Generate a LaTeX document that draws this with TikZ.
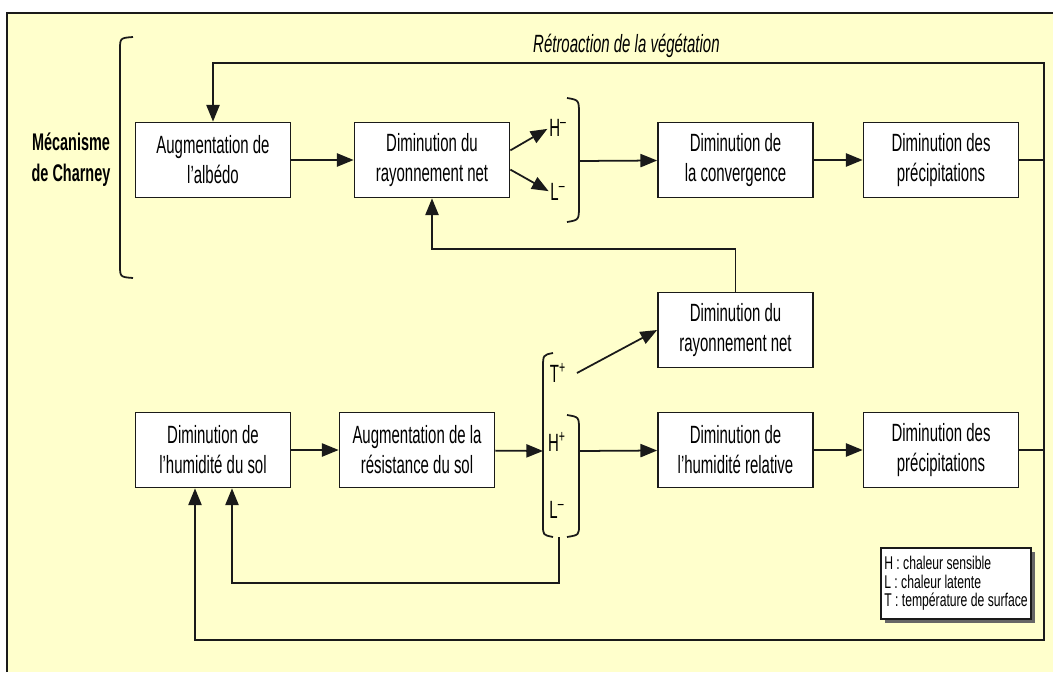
\documentclass[tikz,border=0pt]{standalone}
\usepackage{fontspec}
\setmainfont{Liberation Sans}[FakeStretch=0.6]
\newfontfamily\legendfont{Liberation Sans}[FakeStretch=0.66]
\usepackage{tikz}
\usetikzlibrary{arrows.meta, shadows}
\definecolor{bgyellow}{HTML}{FFFFCC}
\definecolor{lineink}{HTML}{1A1A1A}

\begin{document}
\begin{tikzpicture}[
  x=0.02cm, y=-0.02cm,
  every node/.style = {font=\fontsize{14.2}{17.1}\selectfont, text=black},
  procbox/.style = {rectangle, draw=lineink, fill=white, line width=1pt,
                    minimum width=3.1cm, minimum height=1.5cm,
                    inner sep=0pt, align=center},
  sym/.style    = {inner sep=0pt},
  paren/.style  = {draw=lineink, line width=1pt},
  legbox/.style = {rectangle, draw=lineink, fill=white, line width=1pt,
                   minimum width=3cm, minimum height=1.42cm,
                   inner sep=1.5pt, align=left,
                   font=\legendfont\fontsize{10.5}{10.5}\selectfont,
                   drop shadow={shadow xshift=0.07cm, shadow yshift=-0.07cm,
                                fill=gray!80!black, opacity=1}},
  arr/.style = {-{Triangle[length=9.5pt, width=7.5pt]}, line width=1pt, lineink},
]

%% ── Background and frame ─────────────────────────────────────────────────
\useasboundingbox (0,0) rectangle (1053,672);
\fill[white] (0,0) rectangle (1053,672);
\fill[bgyellow] (7,13) rectangle (1053,672);
\draw[lineink, line width=1pt] (7,672) |- (1053,13);

%% ── Charney mechanism (top row) ──────────────────────────────────────────
\node[font=\bfseries\fontsize{13.7}{17.6}\selectfont, align=center]
  (charney) at (71,160) {Mécanisme\\de Charney};
\draw[paren] (133,37) .. controls (120,38) .. (120,50)
             -- (120,265) .. controls (120,277) .. (133,278);

\node[procbox] (albedo)  at (213,160)   {Augmentation de\\l'albédo};
\node[procbox] (rayon)   at (432,160)   {Diminution du\\rayonnement net};
\node[sym]     (Hm)      at (558,128)   {H\textsuperscript{--}};
\node[sym]     (Lm)      at (558,192)   {L\textsuperscript{--}};
\node[procbox] (conv)    at (735.5,160) {Diminution de\\la convergence};
\node[procbox] (precipA) at (941,160)   {Diminution des\\précipitations};

\draw[paren] (567,98) .. controls (579,100) .. (579,115)
             -- (579,205) .. controls (579,220) .. (567,222);
\coordinate (pupE) at (579,161);

\node[font=\itshape\fontsize{14.2}{17.1}\selectfont, anchor=west]
  (retro) at (527,46) {Rétroaction de la végétation};

%% ── Middle box ───────────────────────────────────────────────────────────
\node[procbox] (rayonB) at (735.5,330) {Diminution du\\rayonnement net};

%% ── Soil moisture (bottom row) ───────────────────────────────────────────
\node[procbox] (sol)     at (213,450)   {Diminution de\\l'humidité du sol};
\node[procbox] (resist)  at (417,450)   {Augmentation de la\\résistance du sol};
\node[sym]     (Tp)      at (558,373)   {T\textsuperscript{+}};
\node[sym]     (Hp)      at (557,442)   {H\textsuperscript{+}};
\node[sym]     (Lm2)     at (557,510)   {L\textsuperscript{--}};
\node[procbox] (humrel)  at (735.5,450) {Diminution de\\l'humidité relative};
\node[procbox] (precipB) at (941,450)   {Diminution des\\précipitations};

\draw[paren] (553,353) .. controls (543,355) .. (543,368)
             -- (543,525) .. controls (543,535) .. (553,537);
\draw[paren] (567,415) .. controls (579,417) .. (579,430)
             -- (579,525) .. controls (579,535) .. (567,537);
\coordinate (ploW) at (543,451);
\coordinate (ploE) at (579,451);
\coordinate (ploS) at (559,537);

%% ── Legend ───────────────────────────────────────────────────────────────
\node[legbox] (legend) at (956,583.5)
  {H : chaleur sensible\\L : chaleur latente\\T : température de surface};

%% ── Arrows ───────────────────────────────────────────────────────────────
\draw[arr] (albedo) -- (rayon);
\draw[arr, shorten >=1pt] (rayon.7)  -- (Hm.west);
\draw[arr, shorten >=1pt] (rayon.-7) -- (Lm.west);
\draw[arr] (pupE) -- (conv);
\draw[arr] (conv) -- (precipA);

\draw[arr] (rayonB.north) -- ++(0,-43) -| (rayon.south);

\draw[arr] (sol)    -- (resist);
\draw[arr] (resist) -- (ploW);
\draw[arr] ([xshift=6pt]Tp.east) -- (rayonB.west);
\draw[arr] (ploE)   -- (humrel);
\draw[arr] (humrel) -- (precipB);

%% ── Feedback loops ───────────────────────────────────────────────────────
\coordinate (loopNE) at (1044,63);
\coordinate (loopSE) at (1044,640);
\coordinate (loopSW) at (195,640);
\draw[arr] (precipB.east) -| (loopNE) -| (albedo.north);
\draw[arr] (precipA.east) -| (loopSE) -- (loopSW) -- (loopSW |- sol.south);
\draw[arr] (ploS) -- ++(0,46) -| ([xshift=0.38cm]sol.south);

\end{tikzpicture}
\end{document}
